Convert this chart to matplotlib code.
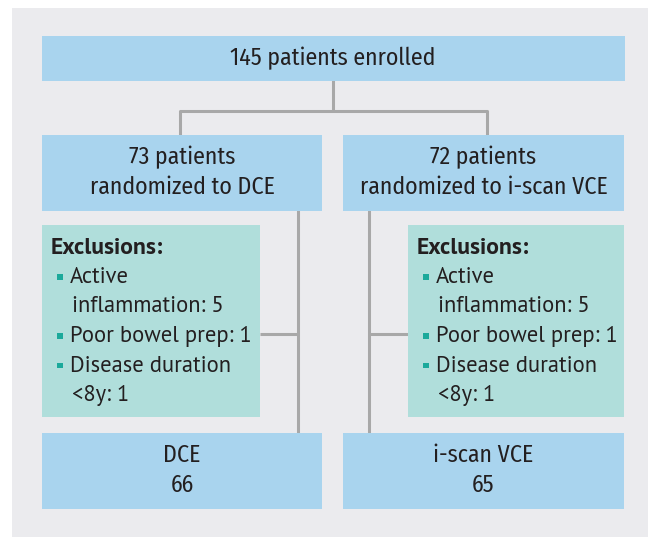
import matplotlib
matplotlib.use("Agg")
import matplotlib.pyplot as plt
from matplotlib.patches import Rectangle
from matplotlib import font_manager
from matplotlib.font_manager import FontProperties

# ---- data ----
enrolled_label = "145 patients enrolled"
arm_labels = [["73 patients", "randomized to DCE"], ["72 patients", "randomized to i-scan VCE"]]
exclusion_title = "Exclusions:"
exclusion_items = [["Active", "inflammation: 5"], ["Poor bowel prep: 1"], ["Disease duration", "<8y: 1"]]
final_labels = [["DCE", "66"], ["i-scan VCE", "65"]]

fonts = font_manager.fontManager.ttflist

def find_file(cands, weight):
    for name in cands:
        best = None
        for f in fonts:
            if f.name != name or f.style != "normal":
                continue
            try:
                w = int(f.weight)
            except (TypeError, ValueError):
                w = {"normal": 400, "regular": 400, "bold": 700}.get(str(f.weight), 400)
            fn = f.fname.split("/")[-1].lower()
            if "italic" in fn or "[" in fn:
                continue
            d = abs(w - weight)
            if best is None or d < best[0]:
                best = (d, f.fname)
        if best is not None and best[0] <= 50:
            return best[1]
    return None

def props(cands, weight):
    fn = find_file(cands, weight)
    if fn:
        return FontProperties(fname=fn)
    return FontProperties(family="DejaVu Sans", weight="bold" if weight >= 600 else "normal")

box_prop = props(["Fira Sans Condensed", "Asap Condensed", "Barlow Semi Condensed"], 400)
exc_prop = props(["PT Sans", "Fira Sans", "Open Sans"], 400)
exc_bold_prop = props(["PT Sans", "Fira Sans", "Open Sans"], 700)

BG = "#EBEBEE"
BLUE = "#A9D4EE"
TEAL = "#B0DEDB"
BULLET = "#1BA99B"
LINE = "#A8A8A8"
TXT = "#231F20"

W, H = 655, 537
fig = plt.figure(figsize=(W / 100, H / 100), dpi=100)
ax = fig.add_axes([0, 0, 1, 1])
ax.set_xlim(0, W)
ax.set_ylim(H, 0)
ax.axis("off")
renderer = fig.canvas.get_renderer()

def fit_size(text, prop, target_px):
    p = prop.copy()
    p.set_size(10)
    t = fig.text(0, 0, text, fontproperties=p)
    w = t.get_window_extent(renderer).width
    t.remove()
    return 10 * target_px / w

def sized(prop, fs):
    p = prop.copy()
    p.set_size(fs)
    return p

box_p = sized(box_prop, fit_size(enrolled_label, box_prop, 206))
exc_p = sized(exc_prop, fit_size("Poor bowel prep: 1", exc_prop, 181))
exc_bp = sized(exc_bold_prop, fit_size(exclusion_title, exc_bold_prop, 112))

def rect(x0, y0, x1, y1, color, z=1):
    ax.add_patch(Rectangle((x0, y0), x1 - x0, y1 - y0, facecolor=color, edgecolor="none", zorder=z))

def line(xs, ys):
    ax.plot(xs, ys, color=LINE, lw=2.2, zorder=0.5, solid_capstyle="butt")

def btext(x, y, s, prop, ha="center"):
    ax.text(x, y, s, ha=ha, va="baseline", fontproperties=prop, color=TXT, zorder=3)

rect(12, 8, 648, 537, BG, z=0)

# top box
rect(42, 36, 625, 80.5, BLUE)
btext(333, 65, enrolled_label, box_p)

# connectors from top
line([333, 333], [80, 111])
line([180, 180, 487, 487], [136, 111, 111, 136])

# arm boxes
arm_x = [(42, 322), (343, 624)]
for (x0, x1), lab in zip(arm_x, arm_labels):
    rect(x0, 135, x1, 210.5, BLUE)
    for k, s in enumerate(lab):
        btext((x0 + x1) / 2, 164.5 + 30 * k, s, box_p)

# vertical lines down
line([298, 298], [210, 434])
line([369, 369], [210, 434])
line([260, 298], [334, 334])
line([369, 408], [334, 334])

# exclusion boxes
exc_x = [(42, 260), (408, 624)]
for x0, x1 in exc_x:
    rect(x0, 225, x1, 417, TEAL, z=1.5)
    btext(x0 + 9, 253.5, exclusion_title, exc_bp, ha="left")
    y = 283
    for item in exclusion_items:
        ax.add_patch(Rectangle((x0 + 15, y - 9), 5.5, 5.5, facecolor=BULLET, edgecolor="none", zorder=3))
        for j, ln in enumerate(item):
            btext(x0 + 28 if j == 0 else x0 + 29.5, y, ln, exc_p, ha="left")
            y += 29.5

# final boxes
for (x0, x1), lab in zip(arm_x, final_labels):
    rect(x0, 433, x1, 508.5, BLUE)
    for k, s in enumerate(lab):
        btext((x0 + x1) / 2, 462 + 30 * k, s, box_p)

fig.savefig("out.png", dpi=100, facecolor="white")
